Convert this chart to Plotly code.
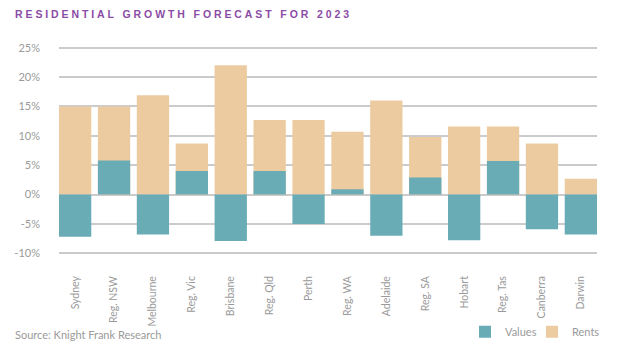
import plotly.graph_objects as go

cities = ["Sydney", "Reg. NSW", "Melbourne", "Reg. Vic", "Brisbane", "Reg. Qld", "Perth",
          "Reg. WA", "Adelaide", "Reg. SA", "Hobart", "Reg. Tas", "Canberra", "Darwin"]
values = [-7.2, 5.8, -6.8, 4.0, -7.9, 4.0, -5.0, 0.9, -7.0, 2.9, -7.8, 5.7, -5.9, -6.8]
rents = [15.0, 15.0, 16.9, 8.7, 22.0, 12.7, 12.7, 10.7, 16.0, 9.8, 11.6, 11.6, 8.7, 2.7]
ytick_vals = [-10, -5, 0, 5, 10, 15, 20, 25]
ytick_text = ["-10%", "-5%", "0%", "5%", "10%", "15%", "20%", "25%"]

TEAL = "#6aacb6"
BEIGE = "#edcba1"
GREY = "#9a9a9a"

fig = go.Figure()
fig.add_trace(go.Bar(x=cities, y=rents, name="Rents", marker=dict(color=BEIGE, line=dict(width=0)),
                     legend="legend2"))
fig.add_trace(go.Bar(x=cities, y=values, name="Values", marker=dict(color=TEAL, line=dict(width=0)),
                     legend="legend"))

W, H = 640, 356
L, R, T, B = 59, 43, 45.5, 101
ph = H - T - B
pw = W - L - R

def py(pix):
    return (H - B - pix) / ph

def px(pix):
    return (pix - L) / pw

leg_common = dict(orientation="h", xanchor="left", y=py(332), yanchor="middle",
                  font=dict(size=11, color=GREY), itemwidth=30,
                  bgcolor="rgba(0,0,0,0)")

fig.update_layout(
    width=W, height=H,
    margin=dict(l=L, r=R, t=T, b=B, autoexpand=False),
    barmode="overlay",
    bargap=0.17,
    plot_bgcolor="white", paper_bgcolor="white",
    font=dict(family="Lato, Liberation Sans, sans-serif", color=GREY, size=11),
    title=dict(text="RESIDENTIAL GROWTH FORECAST FOR 2023", x=15 / W, xanchor="left",
               xref="container", y=1 - 14.7 / H, yanchor="middle", yref="container",
               font=dict(family="Liberation Sans, Arial, sans-serif", size=10.5, color="#8b4ca6",
                         weight="bold")),
    showlegend=True,
    legend=dict(x=px(465), **leg_common),
    legend2=dict(x=px(532), **leg_common),
    xaxis=dict(tickangle=-90, showgrid=False, showline=False, ticks="",
               range=[-0.415, 13.415], tickfont=dict(size=10.5, color=GREY),
               ticklabelstandoff=18, automargin=False),
    yaxis=dict(range=[-10.3, 25.3], tickvals=ytick_vals, ticktext=ytick_text,
               showgrid=True, gridcolor="#cbcbcb", gridwidth=1.5,
               zeroline=True, zerolinecolor="#cbcbcb", zerolinewidth=1.5,
               showline=False, ticks="", ticklabelstandoff=18, automargin=False,
               tickfont=dict(size=11, color=GREY)),
    annotations=[dict(text="Source: Knight Frank Research", xref="paper", yref="paper",
                      x=px(13), y=py(335), xanchor="left", yanchor="middle", showarrow=False,
                      font=dict(size=11, color=GREY))],
)

post = ("document.body.style.margin='0';"
        "document.querySelectorAll('.gtitle').forEach(function(e){e.style.letterSpacing='2.9px';});")
fig.write_html("out.html", post_script=post, config={"displayModeBar": False})
